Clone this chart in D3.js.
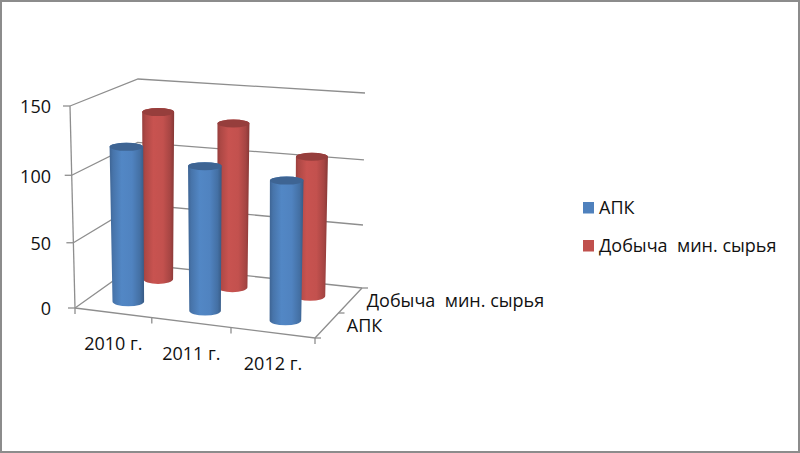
<!DOCTYPE html>
<html><head><meta charset="utf-8">
<script src="https://cdn.jsdelivr.net/npm/d3@7"></script>
<style>html,body{margin:0;padding:0;background:#fff}svg{display:block}text{font-family:"Open Sans",sans-serif;fill:#111;white-space:pre}</style>
</head><body><svg id="c" width="800" height="453"></svg>
<script>
const categories = ["2010 г.","2011 г.","2012 г."];
const seriesNames = ["АПК","Добыча  мин. сырья"];
const apk = [118,110,106];
const mining = [132,128,108];
const valueTicks = [0,50,100,150];
const colors = ["#4f81bd","#c0504d"];

const W=800,H=453;
const svg=d3.select("#c");
const defs=svg.append("defs");
svg.append("rect").attr("x",1).attr("y",1).attr("width",W-2).attr("height",H-2).attr("fill","#fff").attr("stroke","#8c8c8c").attr("stroke-width",2);

// Box corners of the 3D plot: [front/back][left/right][bottom/top]
const box={fl0:[75,308],fr0:[315,338],bl0:[137,264],br0:[362,288],fl1:[70,106],fr1:[318,135],bl1:[138,79],br1:[365,93]};
const uScale=d3.scaleLinear().domain([0,1,2,3]).range([0,0.32,0.65,1]);
const hScale=d3.scaleLinear().domain(valueTicks).range([0,0.323,0.657,1]);
const depthPos=d3.scalePoint().domain(seriesNames).range([0.25,0.75]);
const lerp=(a,b,t)=>a+(b-a)*t;
function proj(i,v,val){
  const u=uScale(i),h=hScale(val);
  return [0,1].map(k=>lerp(
    lerp(lerp(box.fl0[k],box.fr0[k],u),lerp(box.bl0[k],box.br0[k],u),v),
    lerp(lerp(box.fl1[k],box.fr1[k],u),lerp(box.bl1[k],box.br1[k],u),v),h));
}
const line=d3.line();
const grid=svg.append("g").attr("fill","none").attr("stroke","#8e8e8e").attr("stroke-width",1.3);
const n=categories.length;
valueTicks.forEach(t=>{
  grid.append("path").attr("d",line([proj(0,0,t),proj(0,1,t),proj(n,1,t)]));
  const p=proj(0,0,t);
  grid.append("path").attr("d",line([[p[0]-7,p[1]],p]));
});
grid.append("path").attr("d",line([proj(0,0,150),proj(0,0,0)]));
grid.append("path").attr("d",line([proj(0,0,0),proj(n,0,0),proj(n,1,0)]));
d3.range(n+1).forEach(i=>{const p=proj(i,0,0);grid.append("path").attr("d",line([p,[p[0],p[1]+6]]));});
[0,0.5,1].forEach(v=>{const p=proj(n,v,0);grid.append("path").attr("d",line([p,[p[0]+6,p[1]]]));});

function gradient(id,c){
  const b=d3.color(c);
  const g=defs.append("linearGradient").attr("id",id);
  [[0,b.darker(0.7)],[0.1,b.darker(0.3)],[0.35,b.brighter(0.12)],[0.65,b.brighter(0.05)],[0.88,b.darker(0.4)],[1,b.darker(1)]]
    .forEach(s=>g.append("stop").attr("offset",s[0]).attr("stop-color",s[1]));
}
colors.forEach((c,i)=>gradient("g"+i,c));

const seriesValues=[apk,mining];
const rx=[16.8,16];
function cylinder(s,i){
  const val=seriesValues[s][i],v=depthPos(seriesNames[s]),r=rx[s];
  const b=proj(i+.5,v,0),t=proj(i+.5,v,val);
  const ryB=4.8,ryT=4;
  const g=svg.append("g");
  g.append("path").attr("fill",`url(#g${s})`)
   .attr("d",`M${t[0]-r},${t[1]}L${b[0]-r+1},${b[1]}A${r-1},${ryB} 0 0 0 ${b[0]+r-1},${b[1]}L${t[0]+r},${t[1]}A${r},${ryT} 0 0 0 ${t[0]-r},${t[1]}Z`);
  g.append("ellipse").attr("cx",t[0]).attr("cy",t[1]).attr("rx",r).attr("ry",ryT).attr("fill",d3.color(colors[s]).darker(0.7));
}
d3.range(n).forEach(i=>cylinder(1,i));
d3.range(n).forEach(i=>cylinder(0,i));

const fs=18;
valueTicks.forEach(t=>{const p=proj(0,0,t);
  svg.append("text").attr("x",51).attr("y",p[1]+1).attr("dy","0.35em").attr("text-anchor","end").attr("font-size",fs).text(t);});
categories.forEach((c,i)=>{const p=proj(i+.5,0,0);
  svg.append("text").attr("x",p[0]).attr("y",p[1]+31).attr("dy","0.35em").attr("text-anchor","middle").attr("font-size",fs).text(c);});
seriesNames.forEach((c,s)=>{const p=proj(n,s?0.75:0.25,0);
  svg.append("text").attr("x",p[0]+(s?16.5:20)).attr("y",p[1]+(s?0:0)).attr("dy","0.35em").attr("font-size",fs).text(c);});
const legendY=d3.scalePoint().domain(seriesNames).range([208,246]);
seriesNames.forEach((c,s)=>{
  svg.append("rect").attr("x",583).attr("y",legendY(c)-6).attr("width",11).attr("height",11.5).attr("fill",colors[s]);
  svg.append("text").attr("x",599).attr("y",legendY(c)).attr("dy","0.35em").attr("font-size",fs).text(c);
});
</script></body></html>
